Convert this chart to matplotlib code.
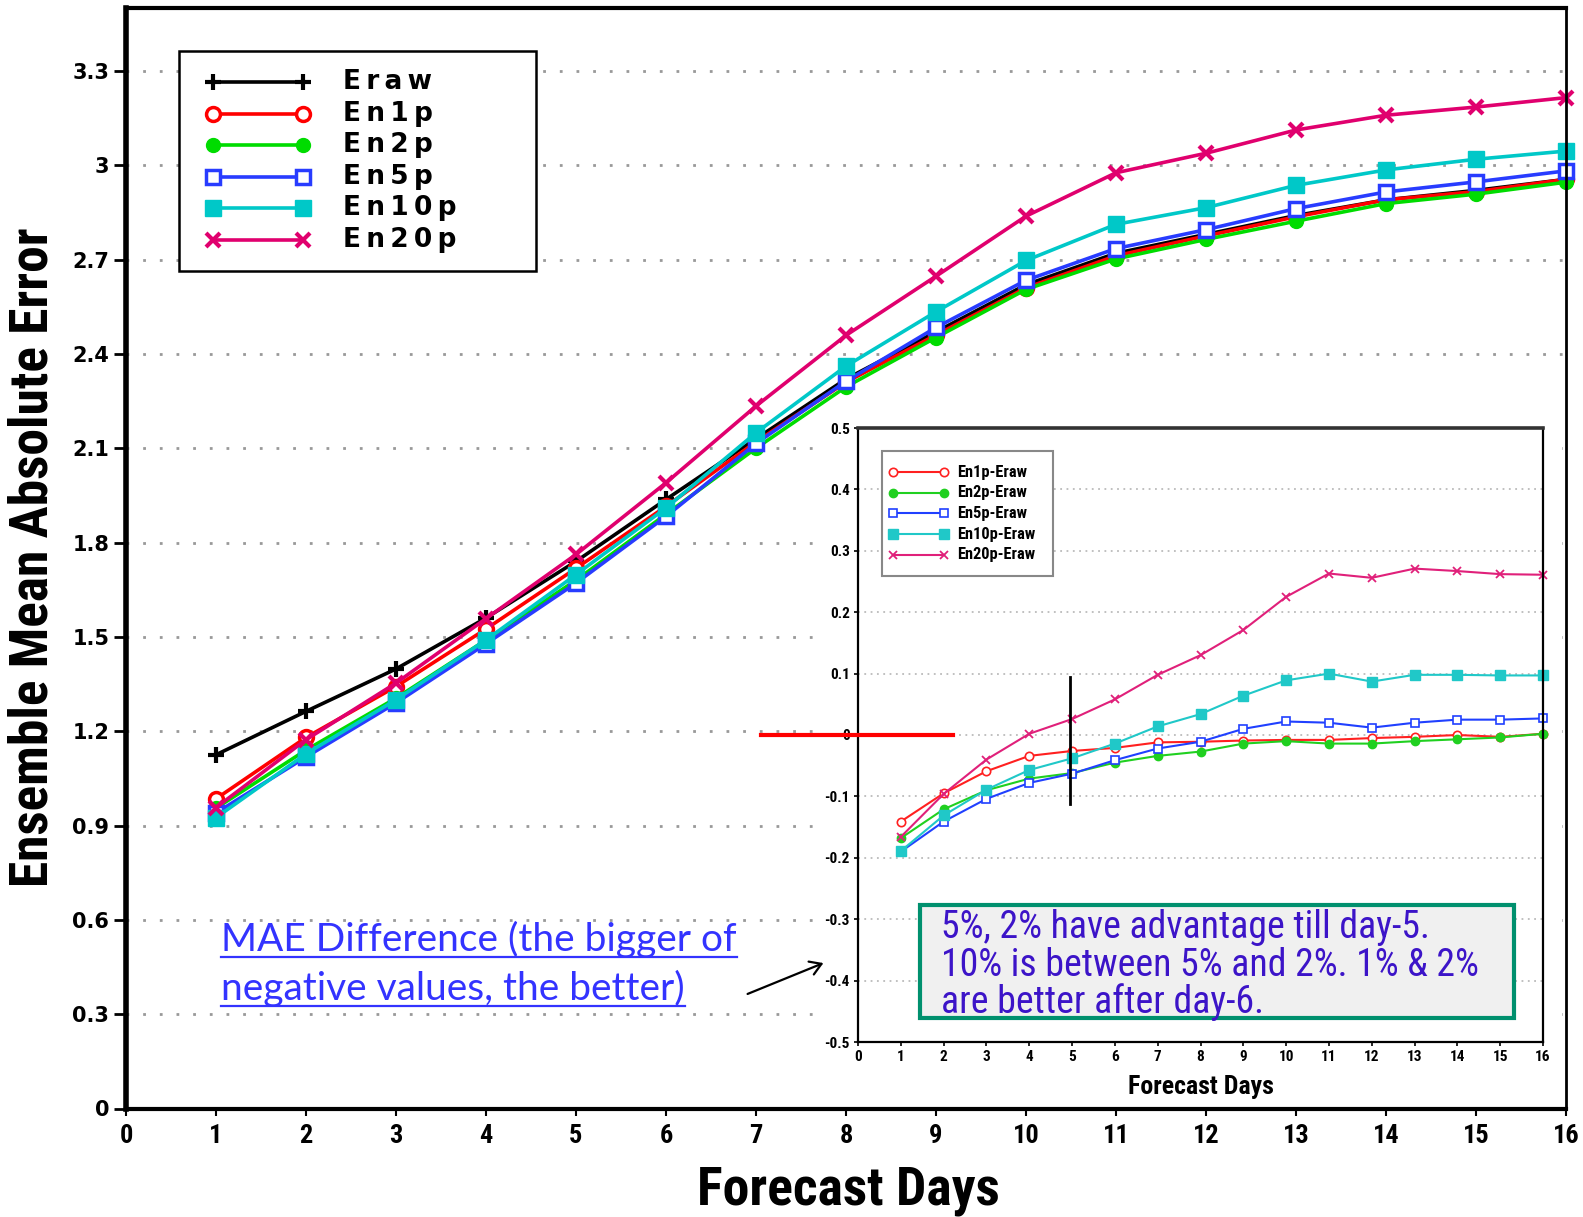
import matplotlib
matplotlib.use('Agg')
import matplotlib.pyplot as plt
from matplotlib import font_manager as fm
from matplotlib.lines import Line2D
from matplotlib.patches import Rectangle, FancyArrowPatch

# 画布按像素排版 (dpi=100)
W, H = 1583, 1217

days = list(range(1, 17))

# 集合平均绝对误差
mae_eraw = [1.125, 1.263, 1.398, 1.560, 1.740, 1.937, 2.130, 2.320, 2.470, 2.620, 2.720, 2.780, 2.840, 2.890, 2.920, 2.955]
mae_en1p = [0.985, 1.180, 1.342, 1.525, 1.718, 1.915, 2.120, 2.310, 2.460, 2.610, 2.712, 2.775, 2.836, 2.890, 2.916, 2.955]
mae_en2p = [0.955, 1.140, 1.305, 1.490, 1.680, 1.890, 2.100, 2.295, 2.452, 2.605, 2.702, 2.764, 2.822, 2.878, 2.908, 2.946]
mae_en5p = [0.940, 1.118, 1.290, 1.478, 1.671, 1.883, 2.115, 2.313, 2.484, 2.634, 2.735, 2.795, 2.862, 2.915, 2.947, 2.982]
mae_en10p = [0.925, 1.128, 1.300, 1.490, 1.698, 1.910, 2.149, 2.361, 2.534, 2.697, 2.812, 2.865, 2.936, 2.985, 3.019, 3.045]
mae_en20p = [0.957, 1.173, 1.353, 1.558, 1.762, 1.990, 2.234, 2.459, 2.647, 2.838, 2.976, 3.038, 3.112, 3.159, 3.185, 3.215]

# 与 Eraw 的差值
diff_en1p = [-0.141, -0.095, -0.059, -0.034, -0.026, -0.021, -0.012, -0.011, -0.009, -0.008, -0.008, -0.005, -0.003, 0.000, -0.003, 0.002]
diff_en2p = [-0.168, -0.121, -0.090, -0.071, -0.062, -0.045, -0.034, -0.027, -0.014, -0.010, -0.014, -0.014, -0.010, -0.007, -0.004, 0.002]
diff_en5p = [-0.190, -0.141, -0.104, -0.078, -0.063, -0.041, -0.022, -0.011, 0.010, 0.022, 0.020, 0.012, 0.020, 0.025, 0.025, 0.027]
diff_en10p = [-0.189, -0.131, -0.089, -0.057, -0.038, -0.014, 0.014, 0.034, 0.064, 0.089, 0.100, 0.087, 0.098, 0.098, 0.097, 0.097]
diff_en20p = [-0.166, -0.096, -0.040, 0.002, 0.026, 0.058, 0.098, 0.130, 0.171, 0.225, 0.263, 0.256, 0.271, 0.267, 0.262, 0.261]

main_labels = ['E\u2009r\u2009a\u2009w', 'E\u2009n\u20091\u2009p', 'E\u2009n\u20092\u2009p',
               'E\u2009n\u20095\u2009p', 'E\u2009n\u20091\u20090\u2009p', 'E\u2009n\u20092\u20090\u2009p']
diff_labels = ['En1p-Eraw', 'En2p-Eraw', 'En5p-Eraw', 'En10p-Eraw', 'En20p-Eraw']
main_yticks = [0, 0.3, 0.6, 0.9, 1.2, 1.5, 1.8, 2.1, 2.4, 2.7, 3.0, 3.3]
main_yticklabels = ['0', '0.3', '0.6', '0.9', '1.2', '1.5', '1.8', '2.1', '2.4', '2.7', '3', '3.3']
diff_yticks = [-0.5, -0.4, -0.3, -0.2, -0.1, 0, 0.1, 0.2, 0.3, 0.4, 0.5]
diff_yticklabels = ['-0.5', '-0.4', '-0.3', '-0.2', '-0.1', '0', '0.1', '0.2', '0.3', '0.4', '0.5']
note_lines = ['5%, 2% have advantage till day-5.',
              '10% is between 5% and 2%. 1% & 2%',
              'are better after day-6.']
blue_lines = ['MAE Difference (the bigger of', 'negative values, the better)']

main_styles = [
    dict(color='black', marker='+', ms=12, mew=3.0, mfc='black'),
    dict(color='#ff0000', marker='o', ms=10, mew=2.5, mfc='white'),
    dict(color='#00dc00', marker='o', ms=10, mew=1.0, mfc='#00dc00'),
    dict(color='#283cff', marker='s', ms=10, mew=2.5, mfc='white'),
    dict(color='#00c8c8', marker='s', ms=11, mew=1.0, mfc='#00c8c8'),
    dict(color='#e0006e', marker='x', ms=10, mew=3.0, mfc='#e0006e'),
]
diff_styles = [
    dict(color='#ff2020', marker='o', ms=6, mew=1.2, mfc='white'),
    dict(color='#20d020', marker='o', ms=6, mew=1.0, mfc='#20d020'),
    dict(color='#2040ff', marker='s', ms=6, mew=1.2, mfc='white'),
    dict(color='#20c8c8', marker='s', ms=6.5, mew=1.0, mfc='#20c8c8'),
    dict(color='#e0207a', marker='x', ms=6, mew=1.3, mfc='#e0207a'),
]


def pick_narrow():
    """找一个窄体字体, 找不到就退回 DejaVu Sans"""
    fonts = fm.fontManager.ttflist
    names = {f.name for f in fonts}
    for n in ['Liberation Sans Narrow', 'Arial Narrow', 'Roboto Condensed', 'Open Sans Condensed',
              'DejaVu Sans Condensed', 'Noto Sans Condensed']:
        if n in names:
            return n, 'normal'
    for f in fonts:
        if 'Narrow' in f.name or 'Condensed' in f.name:
            return f.name, 'normal'
    for f in fonts:
        if str(f.stretch) in ('condensed', 'semi-condensed', 'extra-condensed'):
            return f.name, f.stretch
    return 'DejaVu Sans', 'normal'


NARROW_NAME, NARROW_STRETCH = pick_narrow()
NARROW = dict(family=[NARROW_NAME, 'DejaVu Sans'], stretch=NARROW_STRETCH)


def fx(px):
    return px / W


def fy(py):
    return 1 - py / H


fig = plt.figure(figsize=(W / 100, H / 100), dpi=100)

# ---------- 主图 ----------
ax = fig.add_axes([fx(126), fy(1108.5), (1566 - 126) / W, (1108.5 - 8) / H])
main_series = [mae_eraw, mae_en1p, mae_en2p, mae_en5p, mae_en10p, mae_en20p]
for vals, st in zip(main_series, main_styles):
    ax.plot(days, vals, lw=2.6, clip_on=False, **st)
ax.set_xlim(0, 16)
ax.set_ylim(0, 3.5)
ax.set_xticks(range(0, 17))
ax.set_xticklabels([str(i) for i in range(0, 17)], fontweight='bold', fontsize=19, **NARROW)
ax.set_yticks(main_yticks)
ax.set_yticklabels(main_yticklabels, family='DejaVu Sans', fontweight='bold', fontsize=15)
ax.tick_params(axis='y', length=9, width=2, pad=3)
ax.tick_params(axis='x', length=5, width=1.5, pad=6)
ax.yaxis.grid(True, color='#999999', lw=2, linestyle=(0, (1, 5)))
ax.set_axisbelow(True)
for side, lw in [('left', 4), ('top', 3), ('right', 2), ('bottom', 3)]:
    ax.spines[side].set_linewidth(lw)
    ax.spines[side].set_color('black')

ylab = fig.text(fx(33), fy(557), 'Ensemble Mean Absolute Error', rotation=90, ha='center', va='center',
                fontweight='bold', fontsize=36, **NARROW)
xlab = fig.text(fx(848), fy(1190), 'Forecast Days', ha='center', va='center',
                fontweight='bold', fontsize=38, **NARROW)

# 主图图例 (手工画, 两端带标记)
fig.add_artist(Rectangle((fx(179), fy(271)), (536 - 179) / W, (271 - 51) / H, transform=fig.transFigure,
                         facecolor='white', edgecolor='black', lw=1.8, zorder=3))
for i, (lab, st) in enumerate(zip(main_labels, main_styles)):
    y = fy(82 + 31.6 * i)
    fig.add_artist(Line2D([fx(213), fx(303)], [y, y], transform=fig.transFigure, lw=2.6, zorder=4, **st))
    fig.text(fx(343), y, lab, ha='left', va='center', family='DejaVu Sans', fontweight='bold',
             fontsize=19, zorder=4)

# ---------- 差值插图 ----------
fig.add_artist(Rectangle((fx(818), fy(1106)), (1562 - 818) / W, (1106 - 410) / H, transform=fig.transFigure,
                         facecolor='white', edgecolor='none', zorder=0.5))
axi = fig.add_axes([fx(858), fy(1042), (1543 - 858) / W, (1042 - 428) / H])
axi.set_zorder(1)
diff_series = [diff_en1p, diff_en2p, diff_en5p, diff_en10p, diff_en20p]
for vals, st in zip(diff_series, diff_styles):
    axi.plot(days, vals, lw=1.5, clip_on=False, **st)
axi.set_xlim(0, 16)
axi.set_ylim(-0.5, 0.5)
axi.set_xticks(range(0, 17))
axi.set_xticklabels([str(i) for i in range(0, 17)], fontweight='bold', fontsize=11, **NARROW)
axi.set_yticks(diff_yticks)
axi.set_yticklabels(diff_yticklabels, fontweight='bold', fontsize=11, **NARROW)
axi.tick_params(length=3, width=1.2, pad=3)
axi.yaxis.grid(True, color='#bbbbbb', lw=1.3, linestyle=(0, (1, 2.5)))
axi.set_axisbelow(True)
for side in ['left', 'right', 'bottom']:
    axi.spines[side].set_linewidth(1.6)
axi.spines['top'].set_linewidth(2.6)
axi.spines['top'].set_color('#333333')
ixlab = fig.text(fx(1201), fy(1087), 'Forecast Days', ha='center', va='center',
                 fontweight='bold', fontsize=17, **NARROW)

# 插图图例
fig.add_artist(Rectangle((fx(882), fy(576)), (1053 - 882) / W, (576 - 451) / H, transform=fig.transFigure,
                         facecolor='white', edgecolor='#888888', lw=1.5, zorder=3))
leg_texts = []
for i, (lab, st) in enumerate(zip(diff_labels, diff_styles)):
    y = fy(472 + 20.7 * i)
    fig.add_artist(Line2D([fx(893), fx(944)], [y, y], transform=fig.transFigure, lw=1.5, zorder=4, **st))
    leg_texts.append(fig.text(fx(957), y, lab, ha='left', va='center', fontweight='bold',
                              fontsize=11, zorder=4, **NARROW))

# 零线标记与第5天分界
axi.plot([-2.27, 2.22], [0, 0], color='#ff0000', lw=3, clip_on=False, zorder=5)
axi.plot([4.95, 4.95], [0.094, -0.112], color='black', lw=2, clip_on=False, zorder=5)

# ---------- 注释 ----------
blue_texts = [fig.text(fx(221), fy(yb), s, ha='left', va='baseline', family=['Lato', 'DejaVu Sans'],
                       fontsize=28, color='#3333ff', zorder=6)
              for s, yb in zip(blue_lines, [951, 1000])]

fig.add_artist(FancyArrowPatch((fx(745), fy(995)), (fx(826), fy(962)), transform=fig.transFigure,
                               arrowstyle='->,head_length=8,head_width=5', lw=1.6, color='black',
                               mutation_scale=1, zorder=6))

fig.add_artist(Rectangle((fx(920), fy(1018)), (1514 - 920) / W, (1018 - 905) / H, transform=fig.transFigure,
                         facecolor='#f0f0f0', edgecolor='#00906e', lw=3, zorder=5))
note_texts = [fig.text(fx(941), fy(yb), s, ha='left', va='baseline', fontsize=25,
                       color='#3c14c8', zorder=6, **NARROW)
              for s, yb in zip(note_lines, [938, 976, 1013])]

# 按目标像素宽度缩放字号
fig.canvas.draw()
renderer = fig.canvas.get_renderer()


def fit(texts, ref, target, vertical=False):
    bb = ref.get_window_extent(renderer)
    size = bb.height if vertical else bb.width
    scale = target / size
    for t in texts:
        t.set_fontsize(t.get_fontsize() * scale)


fit(note_texts, note_texts[1], 540)
fit(blue_texts, blue_texts[0], 515)
fit([xlab], xlab, 303)
fit([ylab], ylab, 661, vertical=True)
fit([ixlab], ixlab, 146)
fit(leg_texts, leg_texts[4], 78)
fig.canvas.draw()

# 蓝字下划线
for t, yb in zip(blue_texts, [951, 1000]):
    bb = t.get_window_extent(renderer)
    fig.add_artist(Line2D([bb.x0 / W, bb.x1 / W], [fy(yb + 6), fy(yb + 6)], transform=fig.transFigure,
                          color='#3333ff', lw=1.6, zorder=6))

fig.savefig('out.png', dpi=100)
